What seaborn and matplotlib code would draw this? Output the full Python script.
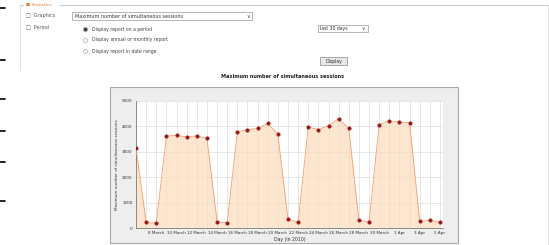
import numpy as np
import pandas as pd
import matplotlib.pyplot as plt
import seaborn as sns
from matplotlib.patches import Rectangle

# Data (last 30 days, 6 March -> 5 Apr 2010)
days = ['6 March', '7 March', '8 March', '9 March', '10 March', '11 March', '12 March',
        '13 March', '14 March', '15 March', '16 March', '17 March', '18 March', '19 March',
        '20 March', '21 March', '22 March', '23 March', '24 March', '25 March', '26 March',
        '27 March', '28 March', '29 March', '30 March', '31 March', '1 Apr', '2 Apr',
        '3 Apr', '4 Apr', '5 Apr']
sessions = [3160, 220, 190, 3620, 3650, 3580, 3630, 3530, 250, 200,
            3790, 3870, 3920, 4120, 3690, 340, 220, 3980, 3870, 4030,
            4300, 3920, 300, 240, 4070, 4220, 4170, 4150, 260, 300, 220]
y_ticks = [0, 1000, 2000, 3000, 4000, 5000]

df = pd.DataFrame({'idx': range(len(days)), 'day': days, 'sessions': sessions})

W, H = 549, 245
sns.set_style("white")
plt.rcParams['font.family'] = ['DejaVu Sans']
fig = plt.figure(figsize=(W / 100, H / 100), dpi=100)


def fx(x):
    return x / W


def fy(y):
    return 1 - y / H


# --- form part of the page (fieldset, selects, radios, button) ---
fig.add_artist(plt.Line2D([fx(20), fx(548)], [fy(5), fy(5)], color='#cccccc', lw=0.8))
fig.add_artist(plt.Line2D([fx(20), fx(20)], [fy(5), fy(70)], color='#dddddd', lw=0.6))
fig.add_artist(plt.Line2D([fx(548), fx(548)], [fy(5), fy(245)], color='#dddddd', lw=0.6))
fig.patches.append(Rectangle((fx(24), fy(8)), 36 / W, 5 / H, transform=fig.transFigure,
                             facecolor='white', edgecolor='none', zorder=2))
fig.text(fx(26), fy(5), '\u25a0 Statistics', fontsize=3.2, color='#e08030', va='center')
fig.text(fx(26), fy(16), '\u25a1  Graphics', fontsize=3.5, color='#555555', va='center')
fig.text(fx(26), fy(27), '\u25a1  Period', fontsize=3.5, color='#555555', va='center')

fig.patches.append(Rectangle((fx(72), fy(20)), 180 / W, 8 / H, transform=fig.transFigure,
                             facecolor='white', edgecolor='#999999', lw=0.5))
fig.text(fx(75), fy(16), 'Maximum number of simultaneous sessions', fontsize=3.5,
         color='#333333', va='center')
fig.text(fx(246), fy(16), '\u2228', fontsize=3.5, color='#333333', va='center')

radios = ['Display report on a period', 'Display annual or monthly report',
          'Display report in date range']
for i, label in enumerate(radios):
    yy = 29 + i * 11
    fig.add_artist(plt.Line2D([fx(85)], [fy(yy)], marker='o', markersize=3,
                              markerfacecolor='#444444' if i == 0 else 'white',
                              markeredgecolor='#999999', markeredgewidth=0.4, lw=0))
    fig.text(fx(92), fy(yy), label, fontsize=3.3, color='#444444', va='center')

fig.patches.append(Rectangle((fx(318), fy(32)), 50 / W, 7 / H, transform=fig.transFigure,
                             facecolor='white', edgecolor='#999999', lw=0.5))
fig.text(fx(320), fy(28.5), 'last 30 days', fontsize=3.3, color='#333333', va='center')
fig.text(fx(361), fy(28.5), '\u2228', fontsize=3.3, color='#333333', va='center')

fig.patches.append(Rectangle((fx(320), fy(65)), 27 / W, 8 / H, transform=fig.transFigure,
                             facecolor='#e8e8e8', edgecolor='#888888', lw=0.5))
fig.text(fx(333.5), fy(61), 'Display', fontsize=3.3, color='#333333', va='center', ha='center')

for yy in [8, 60, 99, 131, 162, 201]:
    fig.add_artist(plt.Line2D([fx(0), fx(5)], [fy(yy), fy(yy)], color='black', lw=1.2))

# --- chart panel ---
fig.patches.append(Rectangle((fx(110), fy(243)), 348 / W, 156 / H, transform=fig.transFigure,
                             facecolor='#eeeeee', edgecolor='#aaaaaa', lw=0.8, zorder=-5))
fig.text(fx(283), fy(77), 'Maximum number of simultaneous sessions', fontsize=3.6,
         fontweight='bold', color='#222222', ha='center', va='center')

ax = fig.add_axes([fx(136), fy(228), (443 - 136) / W, (228 - 101) / H])
ax.set_zorder(5)
ax.set_facecolor('white')

ax.fill_between(df['idx'], df['sessions'], color='#fddcbc', alpha=0.7, lw=0, zorder=1)
sns.lineplot(data=df, x='idx', y='sessions', ax=ax, color='#f0a070', lw=0.6,
             marker='o', markersize=2.6, markerfacecolor='#8b1a1a',
             markeredgecolor='#cc2222', markeredgewidth=0.3, zorder=3)

ax.set_xlim(0, 30.3)
ax.set_ylim(0, 5000)
ax.set_xticks(df['idx'], minor=True)
ax.set_xticks(df['idx'][2::2])
ax.set_xticklabels(df['day'][2::2], fontsize=3.0, color='#333333')
ax.set_yticks(y_ticks)
ax.set_yticklabels([str(v) for v in y_ticks], fontsize=3.0, color='#333333')
ax.grid(True, which='both', axis='x', color='#dddddd', lw=0.5, zorder=0)
ax.grid(True, which='major', axis='y', color='#dddddd', lw=0.5, zorder=0)
ax.set_axisbelow(True)
ax.tick_params(axis='both', which='both', length=1.5, width=0.4, pad=1, color='#666666')
for side in ['top', 'right']:
    ax.spines[side].set_visible(False)
for side in ['left', 'bottom']:
    ax.spines[side].set_color('#666666')
    ax.spines[side].set_linewidth(0.5)

ax.set_xlabel('Day (in 2010)', fontsize=3.3, color='#333333', labelpad=1)
ax.set_ylabel('Maximum number of simultaneous sessions', fontsize=3.0, color='#333333',
              labelpad=2)

fig.savefig('out.png', dpi=100)
